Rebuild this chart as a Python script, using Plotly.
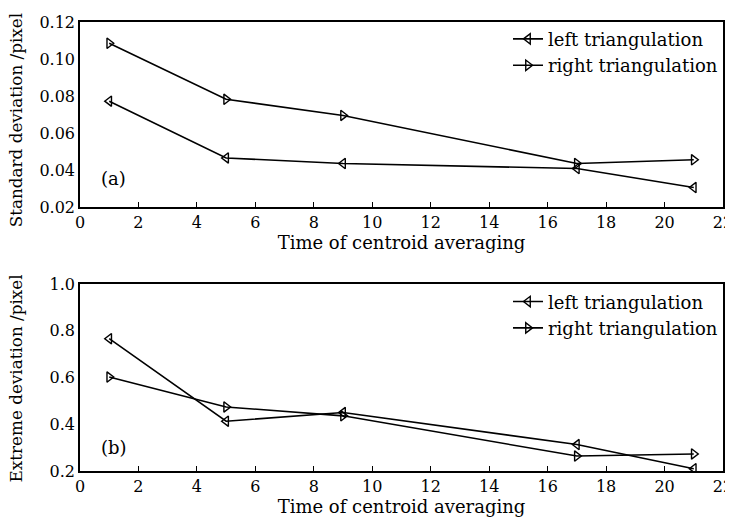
import plotly.graph_objects as go

x_vals = [1, 5, 9, 17, 21]
std_left = [0.0772, 0.0465, 0.0435, 0.0408, 0.0305]
std_right = [0.1085, 0.0782, 0.0695, 0.0435, 0.0455]
ext_left = [0.766, 0.413, 0.450, 0.313, 0.210]
ext_right = [0.602, 0.474, 0.436, 0.264, 0.273]

x_ticks = [0, 2, 4, 6, 8, 10, 12, 14, 16, 18, 20, 22]
std_ticks = [0.02, 0.04, 0.06, 0.08, 0.10, 0.12]
std_tick_text = ["0.02", "0.04", "0.06", "0.08", "0.10", "0.12"]
ext_ticks = [0.2, 0.4, 0.6, 0.8, 1.0]
ext_tick_text = ["0.2", "0.4", "0.6", "0.8", "1.0"]

FONT = "DejaVu Serif, serif"

fig = go.Figure()

def add(x, y, name, sym, xa, ya, leg):
    fig.add_trace(go.Scatter(
        x=x, y=y, name=name, mode="lines+markers",
        line=dict(color="black", width=1.6),
        marker=dict(symbol=sym, size=9, color="black", line=dict(width=1.4, color="black")),
        xaxis=xa, yaxis=ya, legend=leg))

add(x_vals, std_left, "left triangulation", "triangle-left-open", "x", "y", "legend")
add(x_vals, std_right, "right triangulation", "triangle-right-open", "x", "y", "legend")
add(x_vals, ext_left, "left triangulation", "triangle-left-open", "x2", "y2", "legend2")
add(x_vals, ext_right, "right triangulation", "triangle-right-open", "x2", "y2", "legend2")

axis_common = dict(showline=True, linecolor="black", linewidth=1.5, mirror=True,
                   showgrid=False, zeroline=False, automargin=False,
                   ticklabeloverflow="allow",
                   tickfont=dict(family=FONT, size=16, color="black"))

xt = dict(text="Time of centroid averaging", standoff=0, font=dict(family=FONT, size=18))

fig.update_layout(
    width=725, height=514,
    margin=dict(l=72, r=10, t=14, b=51),
    paper_bgcolor="white", plot_bgcolor="white",
    font=dict(family=FONT, size=17, color="black"),
    xaxis=dict(domain=[0, 1], anchor="y", range=[0, 22], tickvals=x_ticks,
               ticks="inside", ticklen=5, tickcolor="black", tickwidth=1.2,
               title=xt, **axis_common),
    yaxis=dict(domain=[0.588, 1.0], anchor="x", range=[0.02, 0.12],
               tickvals=std_ticks, ticktext=std_tick_text, ticks="",
               **axis_common),
    xaxis2=dict(domain=[0, 1], anchor="y2", range=[0, 22], tickvals=x_ticks,
                ticks="inside", ticklen=5, tickcolor="black", tickwidth=1.2,
                title=xt, **axis_common),
    yaxis2=dict(domain=[0.0, 0.4165], anchor="x2", range=[0.2, 1.0],
                tickvals=ext_ticks, ticktext=ext_tick_text, ticks="",
                **axis_common),
    legend=dict(x=1.0, y=1.003, xanchor="right", yanchor="top",
                bgcolor="rgba(0,0,0,0)", font=dict(family=FONT, size=18),
                tracegroupgap=0, itemwidth=30),
    legend2=dict(x=1.0, y=0.418, xanchor="right", yanchor="top",
                 bgcolor="rgba(0,0,0,0)", font=dict(family=FONT, size=18),
                 tracegroupgap=0, itemwidth=30),
    annotations=[
        dict(x=1.15, y=0.0355, xref="x", yref="y", text="(a)", showarrow=False,
             font=dict(family=FONT, size=18)),
        dict(x=1.15, y=0.302, xref="x2", yref="y2", text="(b)", showarrow=False,
             font=dict(family=FONT, size=18)),
        dict(x=-0.099, y=0.782, xref="paper", yref="paper", text="Standard deviation /pixel",
             textangle=-90, showarrow=False, xanchor="center", yanchor="middle",
             font=dict(family=FONT, size=16.8)),
        dict(x=-0.099, y=0.207, xref="paper", yref="paper", text="Extreme deviation /pixel",
             textangle=-90, showarrow=False, xanchor="center", yanchor="middle",
             font=dict(family=FONT, size=16.8)),
    ],
)

fig.write_html("out.html")
